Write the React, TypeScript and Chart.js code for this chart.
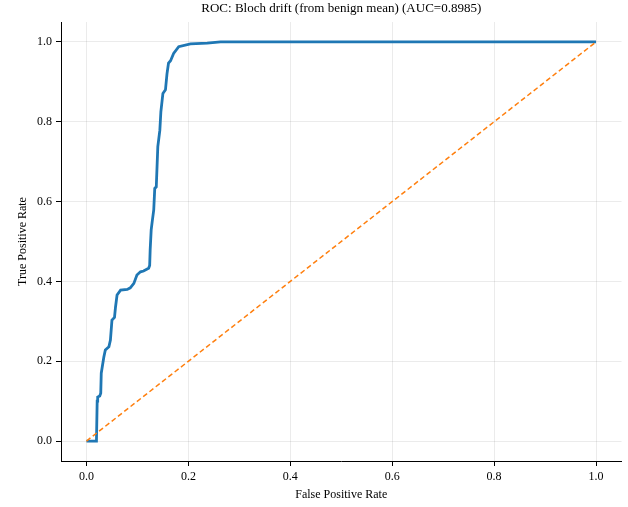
import { useEffect, useRef } from 'react';
import { Chart, registerables } from 'chart.js';

Chart.register(...registerables);

const titleText = 'ROC: Bloch drift (from benign mean) (AUC=0.8985)';
const xLabel = 'False Positive Rate';
const yLabel = 'True Positive Rate';
const tickValues = [0, 0.2, 0.4, 0.6, 0.8, 1.0];

const fpr = [0, 0.0196, 0.021, 0.022, 0.026, 0.028, 0.029, 0.034, 0.037, 0.044,
  0.047, 0.05, 0.055, 0.057, 0.06, 0.067, 0.08, 0.086, 0.093, 0.099,
  0.106, 0.112, 0.122, 0.124, 0.125, 0.127, 0.129, 0.132, 0.134, 0.137,
  0.14, 0.144, 0.146, 0.15, 0.155, 0.158, 0.161, 0.165, 0.171, 0.181,
  0.204, 0.237, 0.263, 1.0];
const tpr = [0, 0, 0.10, 0.11, 0.113, 0.12, 0.17, 0.21, 0.228, 0.236,
  0.253, 0.303, 0.31, 0.336, 0.366, 0.378, 0.38, 0.384, 0.395, 0.416,
  0.424, 0.426, 0.433, 0.44, 0.479, 0.529, 0.55, 0.579, 0.633, 0.637,
  0.738, 0.779, 0.825, 0.871, 0.88, 0.92, 0.947, 0.953, 0.971, 0.988,
  0.995, 0.997, 1.0, 1.0];

const chanceX = [0, 1];
const chanceY = [0, 1];

const FONT_FAMILY = '"Liberation Serif", "Times New Roman", serif';

export default function App() {
  const ref = useRef<HTMLCanvasElement>(null);

  useEffect(() => {
    document.body.style.margin = '0';
    const canvas = ref.current;
    if (!canvas) return;

    const titlePlugin = {
      id: 'customTitle',
      afterDraw(chart: any) {
        const { ctx, chartArea } = chart;
        ctx.save();
        ctx.font = `13px ${FONT_FAMILY}`;
        ctx.fillStyle = '#000';
        ctx.textAlign = 'center';
        ctx.textBaseline = 'middle';
        ctx.fillText(titleText, (chartArea.left + chartArea.right) / 2, 9);
        ctx.restore();
      },
    };

    const font = { family: FONT_FAMILY, size: 12 };
    const gridColor = 'rgba(0,0,0,0.08)';

    const chart = new Chart(canvas, {
      type: 'line',
      data: {
        datasets: [
          {
            label: 'chance',
            data: chanceX.map((x, i) => ({ x, y: chanceY[i] })),
            borderColor: '#ff7f0e',
            borderWidth: 1.5,
            borderDash: [5, 3],
            pointRadius: 0,
            fill: false,
            order: 0,
          },
          {
            label: 'ROC',
            data: fpr.map((x, i) => ({ x, y: tpr[i] })),
            borderColor: '#1f77b4',
            borderWidth: 2.8,
            pointRadius: 0,
            fill: false,
            tension: 0,
            order: 1,
          },
        ],
      },
      options: {
        responsive: false,
        animation: false,
        layout: { padding: { top: 22, right: 6.5, left: 0, bottom: 0 } },
        plugins: {
          legend: { display: false },
          tooltip: { enabled: false },
          title: { display: false },
        },
        scales: {
          x: {
            type: 'linear',
            min: -0.05,
            max: 1.05,
            afterBuildTicks: (s: any) => {
              s.ticks = tickValues.map((v) => ({ value: v }));
            },
            afterFit: (s: any) => {
              s.height = 46;
            },
            ticks: {
              callback: (v: any) => Number(v).toFixed(1),
              font,
              color: '#000',
              padding: 4,
              maxRotation: 0,
              autoSkip: false,
            },
            grid: { color: gridColor, tickColor: '#000', tickLength: 5, lineWidth: 1 },
            border: { color: '#000', width: 1 },
            title: {
              display: true,
              text: xLabel,
              font,
              color: '#000',
              padding: { top: 0, bottom: 5 },
            },
          },
          y: {
            type: 'linear',
            min: -0.05,
            max: 1.05,
            afterBuildTicks: (s: any) => {
              s.ticks = tickValues.map((v) => ({ value: v }));
            },
            afterFit: (s: any) => {
              s.width = 61;
            },
            ticks: {
              callback: (v: any) => Number(v).toFixed(1),
              font,
              color: '#000',
              padding: 4,
              autoSkip: false,
            },
            grid: { color: gridColor, tickColor: '#000', tickLength: 5, lineWidth: 1 },
            border: { color: '#000', width: 1 },
            title: {
              display: true,
              text: yLabel,
              font,
              color: '#000',
              padding: { top: 15.5, bottom: 0 },
            },
          },
        },
      },
      plugins: [titlePlugin],
    });

    return () => chart.destroy();
  }, []);

  return (
    <div style={{ position: 'absolute', left: 0, top: 0, width: 628, height: 507 }}>
      <canvas ref={ref} width={628} height={507} style={{ width: 628, height: 507 }} />
    </div>
  );
}
